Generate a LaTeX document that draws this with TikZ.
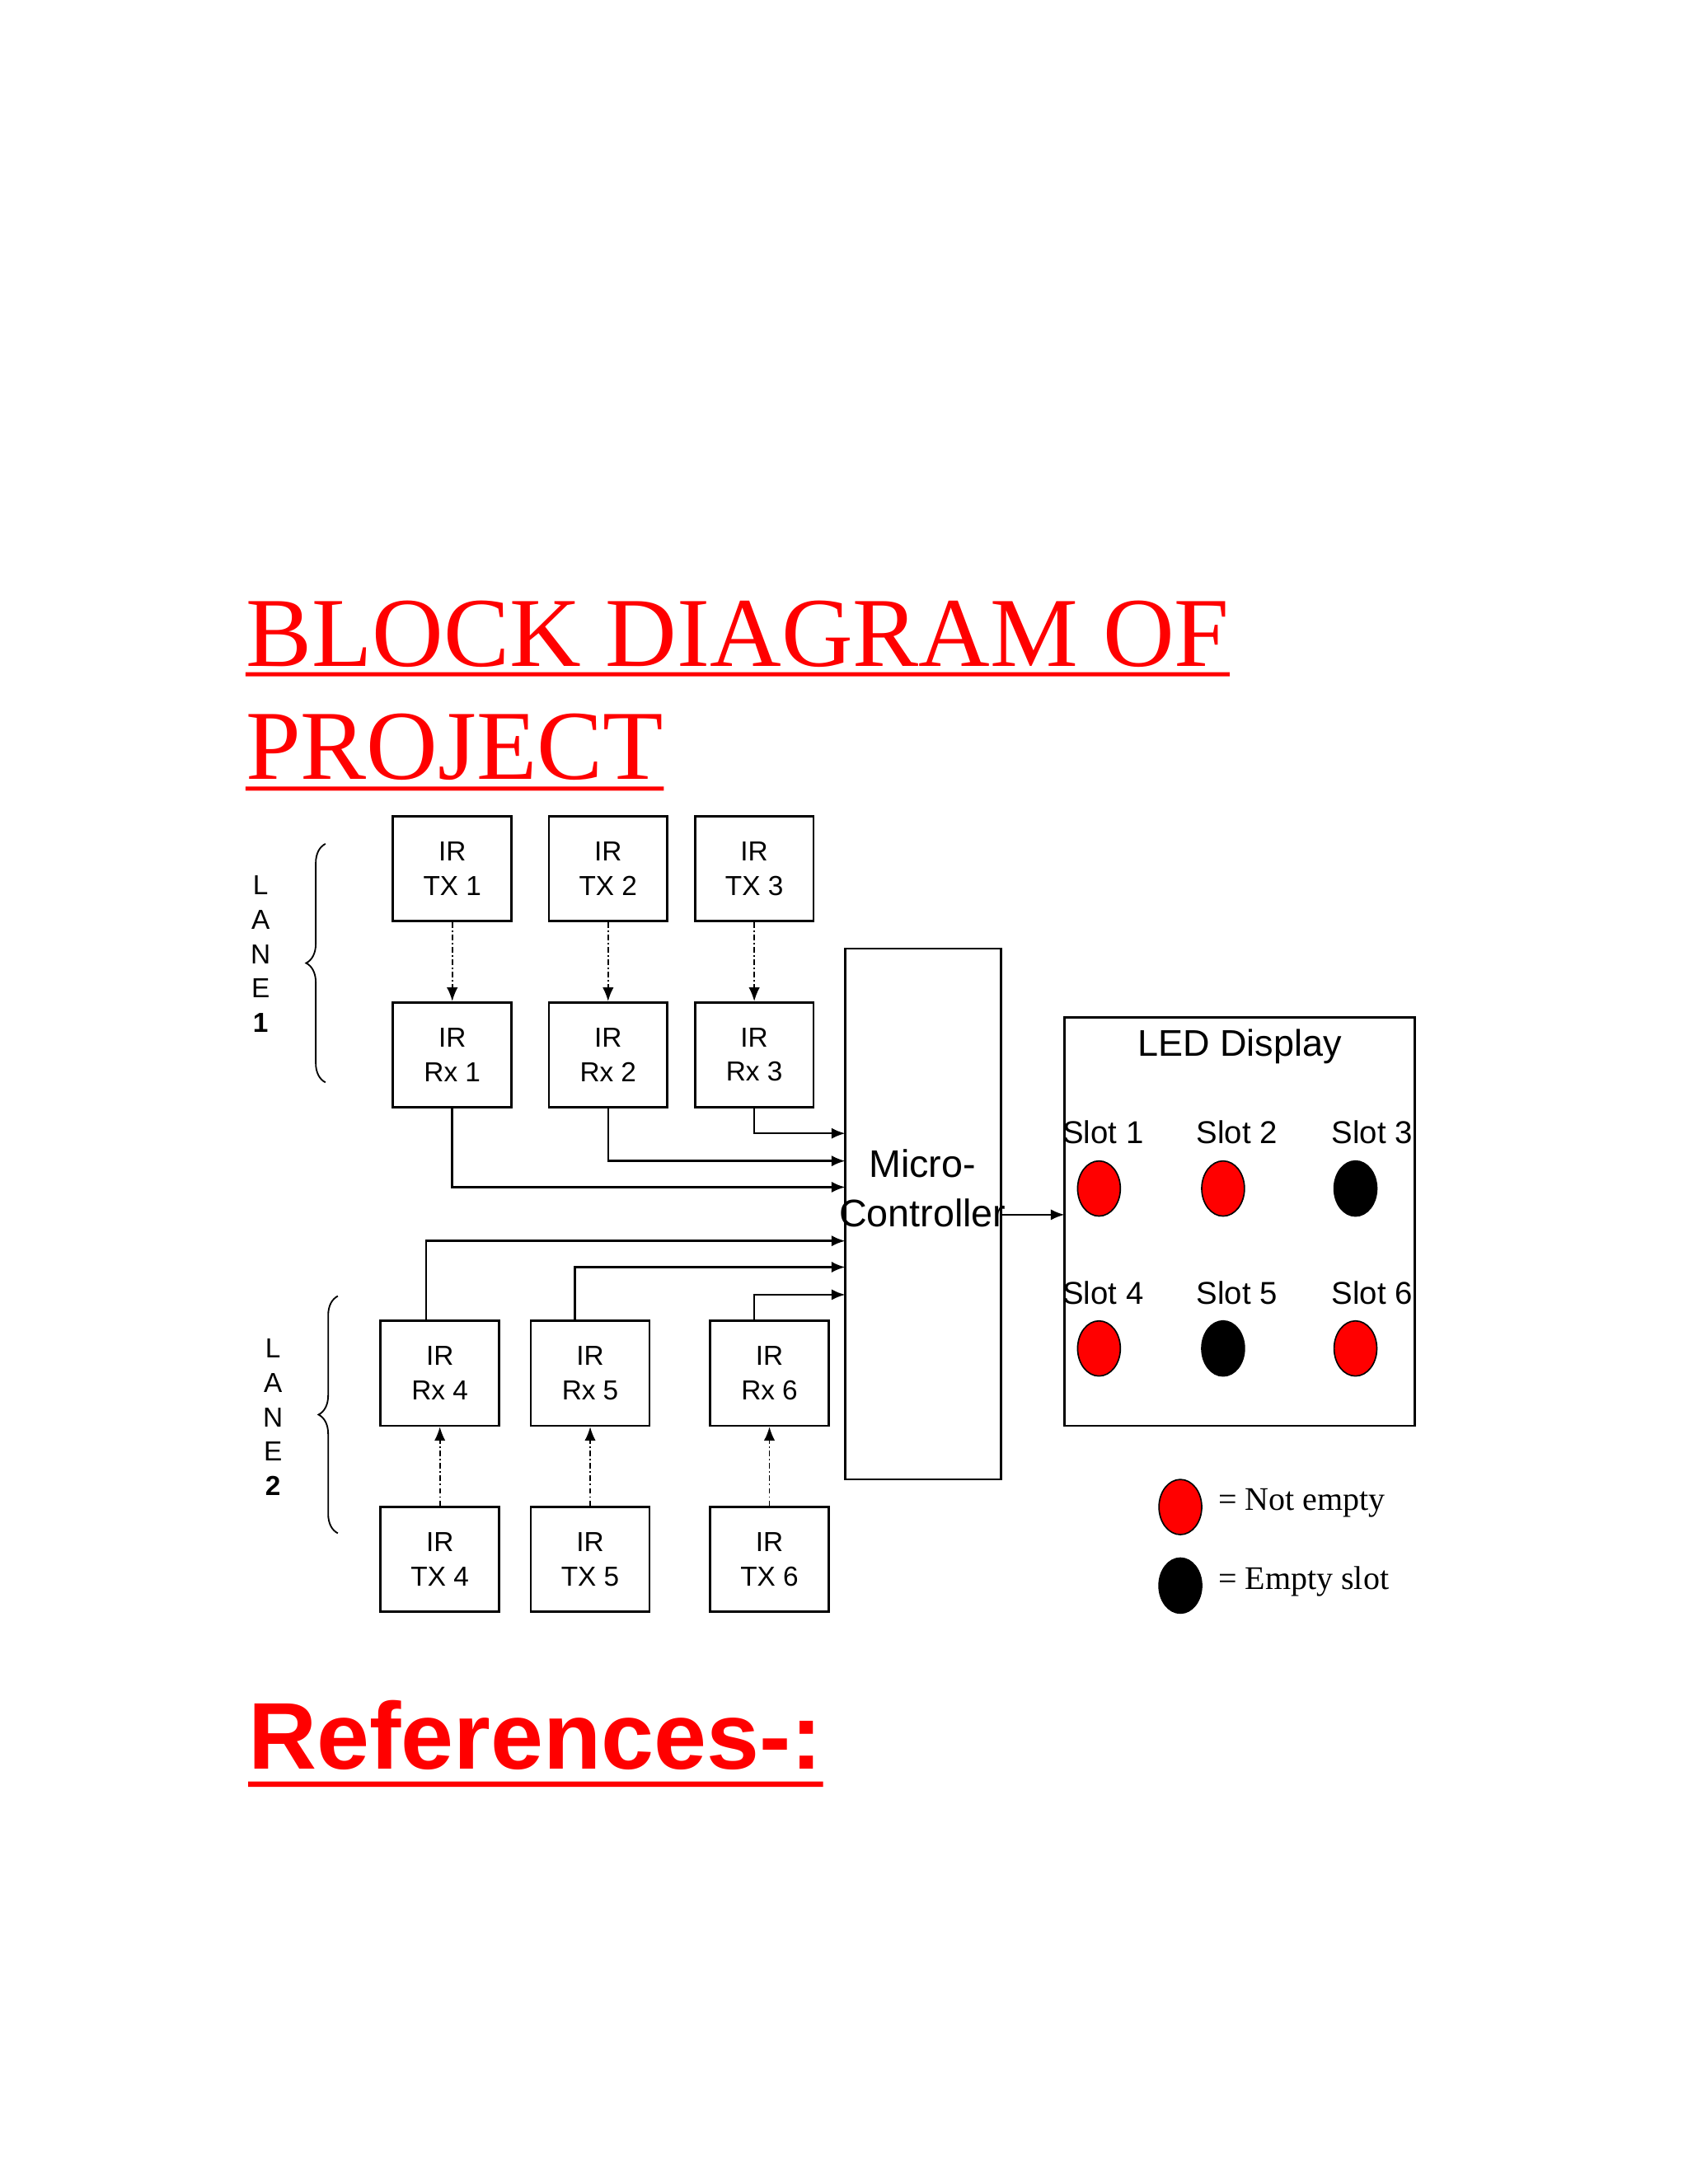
\documentclass[tikz,border=0pt]{standalone}
\usepackage{fontspec}
\setmainfont{Liberation Serif}
\newfontfamily\sans{Liberation Sans}
\usetikzlibrary{arrows.meta,decorations.pathreplacing,shapes.geometric}
\newcommand{\ul}[2]{\underline{#2}}
\begin{document}
\begin{tikzpicture}[x=1bp,y=-1bp,
  box/.style={draw,line width=1.6bp,minimum width=86bp,minimum height=76bp,font=\sans\fontsize{20}{25}\selectfont,align=center,inner sep=0pt},
  sig/.style={line width=1.5bp,-{Latex[length=10bp,width=8bp]}},
  ir/.style={line width=1.1bp,dash pattern=on 4bp off 2bp on 1bp off 2bp,-{Latex[length=10bp,width=8bp]}},
  led/.style={ellipse,draw=black,line width=1bp,minimum width=31bp,minimum height=40bp,inner sep=0pt},
  slot/.style={font=\sans\fontsize{23}{26}\selectfont},
  lane/.style={font=\sans\fontsize{20}{25}\selectfont,align=center}]
\useasboundingbox[fill=white] (0,0) rectangle (1224,1584);
% title
\node[anchor=base west,text=red,font=\fontsize{72}{80}\selectfont,inner sep=0pt] (t1) at (178,483) {BLOCK DIAGRAM OF};
\node[anchor=base west,text=red,font=\fontsize{72}{80}\selectfont,inner sep=0pt] (t2) at (178,565) {PROJECT};
\draw[red,line width=3bp] (t1.base west) ++(0,6) -- ([yshift=-6bp]t1.base east);
\draw[red,line width=3bp] (t2.base west) ++(0,7) -- ([yshift=-7bp]t2.base east);
% lane 1
\node[box] (tx1) at (328,630) {IR\\TX 1};
\node[box] (tx2) at (441,630) {IR\\TX 2};
\node[box] (tx3) at (547,630) {IR\\TX 3};
\node[box] (rx1) at (328,765) {IR\\Rx 1};
\node[box] (rx2) at (441,765) {IR\\Rx 2};
\node[box] (rx3) at (547,765) {IR\\Rx 3};
% lane 2
\node[box] (rx4) at (319,996) {IR\\Rx 4};
\node[box] (rx5) at (428,996) {IR\\Rx 5};
\node[box] (rx6) at (558,996) {IR\\Rx 6};
\node[box] (tx4) at (319,1131) {IR\\TX 4};
\node[box] (tx5) at (428,1131) {IR\\TX 5};
\node[box] (tx6) at (558,1131) {IR\\TX 6};
% micro
\node[draw,line width=1.6bp,minimum width=113bp,minimum height=385bp,inner sep=0pt] (mc) at (669.5,880.5) {};
\node[font=\sans\fontsize{28}{36}\selectfont,align=center] (mct) at (669,862) {Micro-\\Controller};
% LED display
\node[draw,line width=1.6bp,minimum width=254bp,minimum height=296bp,inner sep=0pt] (led) at (899,886) {};
\node[font=\sans\fontsize{27}{30}\selectfont] (ledt) at (899,759) {LED Display};
\node[slot] (s1) at (800,821) {Slot 1};
\node[slot] (s2) at (897,821) {Slot 2};
\node[slot] (s3) at (995,821) {Slot 3};
\node[slot] (s4) at (800,938) {Slot 4};
\node[slot] (s5) at (897,938) {Slot 5};
\node[slot] (s6) at (995,938) {Slot 6};
\node[led,fill=red] (l1) at (797,862) {};
\node[led,fill=red] (l2) at (887,862) {};
\node[led,fill=black] (l3) at (983,862) {};
\node[led,fill=red] (l4) at (797,978) {};
\node[led,fill=black] (l5) at (887,978) {};
\node[led,fill=red] (l6) at (983,978) {};
% legend
\node[led,fill=red] (lg1) at (856,1093) {};
\node[led,fill=black] (lg2) at (856,1150) {};
\node[anchor=west,font=\fontsize{24}{28}\selectfont] (lt1) at (880,1090) {= Not empty};
\node[anchor=west,font=\fontsize{24}{28}\selectfont] (lt2) at (880,1147) {= Empty slot};
% IR links
\draw[ir] (tx1) -- (rx1);
\draw[ir] (tx2) -- (rx2);
\draw[ir] (tx3) -- (rx3);
\draw[ir] (tx4) -- (rx4);
\draw[ir] (tx5) -- (rx5);
\draw[ir] (tx6) -- (rx6);
% signals
\coordinate (i1) at (613,822);
\coordinate (i2) at (613,842);
\coordinate (i3) at (613,861);
\coordinate (i4) at (613,900);
\coordinate (i5) at (613,919);
\coordinate (i6) at (613,939);
\draw[sig] (rx3.south) |- (i1);
\draw[sig] (rx2.south) |- (i2);
\draw[sig] (rx1.south) |- (i3);
\draw[sig] ([xshift=-10bp]rx4.north) |- (i4);
\draw[sig] ([xshift=-11bp]rx5.north) |- (i5);
\draw[sig] ([xshift=-11bp]rx6.north) |- (i6);
\coordinate (o1) at (772,881);
\draw[sig] (mc.east |- o1) -- (o1);
% braces
\draw[line width=1.1bp,decorate,decoration={brace,amplitude=14bp}] (236,785) -- (236,612);
\draw[line width=1.1bp,decorate,decoration={brace,amplitude=14bp}] (245,1112) -- (245,940);
\node[lane] (ln1) at (189,692) {L\\A\\N\\E\\\textbf{1}};
\node[lane] (ln2) at (198,1028) {L\\A\\N\\E\\\textbf{2}};
% references
\node[anchor=base west,text=red,font=\sans\bfseries\fontsize{69}{75}\selectfont,inner sep=0pt] (ref) at (180,1283) {References-:};
\draw[red,line width=4bp] (ref.base west) ++(0,11) -- ([yshift=-11bp]ref.base east);
\end{tikzpicture}
\end{document}
